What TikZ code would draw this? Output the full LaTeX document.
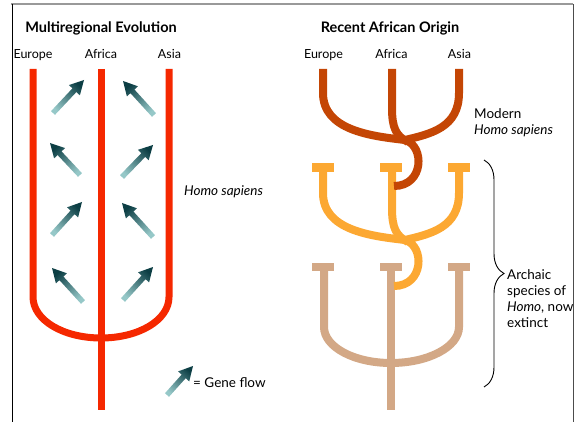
\documentclass[tikz,border=0pt]{standalone}
\usepackage{fontspec}
\setmainfont{Lato}
\usetikzlibrary{calc,positioning,decorations.pathreplacing}
\definecolor{multired}{RGB}{245,40,0}
\definecolor{modernrust}{RGB}{196,70,5}
\definecolor{archaicorange}{RGB}{252,168,50}
\definecolor{archaictan}{RGB}{211,168,134}
\definecolor{flowdark}{RGB}{12,62,68}
\definecolor{flowlight}{RGB}{150,200,200}

\begin{document}
\begin{tikzpicture}[x=1pt, y=-1pt,
  region/.style={font=\fontsize{12.5}{16}\selectfont, inner sep=0pt, anchor=base},
  paneltitle/.style={font=\fontsize{14.5}{16}\selectfont\bfseries, inner sep=0pt, anchor=base},
  sidenote/.style={font=\fontsize{13.5}{16}\selectfont, inner sep=0pt, align=left, anchor=base west},
  lineage/.style={line width=8pt},
  flow/.style={top color=flowdark, bottom color=flowlight}
]
\useasboundingbox (0,0) rectangle (581,422);

% frame
\draw[black!40, line width=1.5pt] (11,4) -- (573,4);
\draw[black, line width=1pt] (12,4) -- (12,422);
\draw[black!70, line width=1pt] (573,4) -- (573,422);

% titles and regions
\node[paneltitle] (multi) at (101,33) {Multiregional Evolution};
\node[paneltitle] (recent) at (390,33) {Recent African Origin};
\node[region] (euL) at (33,59) {Europe};
\node[region] (afL) at (101,59) {Africa};
\node[region] (asL) at (169.5,59) {Asia};
\node[region] (euR) at (323.5,59) {Europe};
\node[region] (afR) at (391.5,59) {Africa};
\node[region] (asR) at (459.5,59) {Asia};

% multiregional lineages
\draw[lineage, line width=7pt, multired] (33,69) -- (33,297)
  .. controls (33,320) and (63,338) .. (101,338)
  .. controls (139,338) and (169,320) .. (169,297) -- (169,69);
\draw[lineage, line width=7pt, multired] (101,69) -- (101,410);

% gene flow arrows
\foreach \tx/\ty/\hx/\hy in {53/113/84/80, 154/115/123/81, 80/175/50/143, 122/177/153/145,
    52/235/82/202, 153/237/122/203, 83/302/52/268, 123/300/153/267, 167/395/193/366}{
  \pgfmathsetmacro\ang{atan2(\ty-\hy,\hx-\tx)-90}
  \coordinate (ft) at (\tx,\ty);
  \coordinate (fh) at (\hx,\hy);
  \coordinate (fb) at ($(fh)!14pt!(ft)$);
  \shade[flow, shading angle=\ang] ($(ft)!2.7pt!90:(fh)$) -- ($(fb)!2.7pt!90:(fh)$)
    -- ($(fb)!7.5pt!90:(fh)$) -- (fh) -- ($(fb)!7.5pt!-90:(fh)$)
    -- ($(fb)!2.7pt!-90:(fh)$) -- ($(ft)!2.7pt!-90:(fh)$) -- cycle;
}

% archaic, tan
\foreach \bx in {323,391,459}
  \fill[archaictan] (\bx-11,263) rectangle (\bx+11,271);
\draw[lineage, archaictan] (324,265) -- (324,327)
  .. controls (324,347) and (354,363) .. (391,363)
  .. controls (428,363) and (459,347) .. (459,327) -- (459,265);
\draw[lineage, archaictan] (391,265) -- (391,410);

% archaic orange and modern
\foreach \bx in {323,391,459}
  \fill[archaicorange] (\bx-11,163) rectangle (\bx+11,172);
\foreach \dy/\col in {100/archaicorange, 0/modernrust}{
  \draw[lineage, \col] (323,69+\dy) -- (323,93+\dy)
    .. controls (323,130+\dy) and (370,136+\dy) .. (405,140+\dy)
    .. controls (425,146+\dy) and (424,186+\dy) .. (394,186+\dy);
  \draw[lineage, \col] (459,69+\dy) -- (459,93+\dy)
    .. controls (459,128+\dy) and (430,134+\dy) .. (405,140+\dy);
  \draw[lineage, \col] (392,69+\dy) -- (392,108+\dy)
    .. controls (392,128+\dy) and (396,136+\dy) .. (408,142+\dy);
}

% brace
\draw[decorate, decoration={brace, amplitude=20pt}, line width=0.9pt]
  (484,160) -- (484,387);

% side notes
\node[sidenote] (hsL) at (184,196) {\itshape Homo sapiens};
\node[sidenote, anchor=north west] (modern) at (474,108) {Modern\\\textit{Homo sapiens}};
\node[sidenote, anchor=north west] (archaic) at (507,269) {Archaic\\species of\\\textit{Homo}, now\\extinct};
\node[sidenote] (gflow) at (193,387) {= Gene flow};
\end{tikzpicture}
\end{document}
